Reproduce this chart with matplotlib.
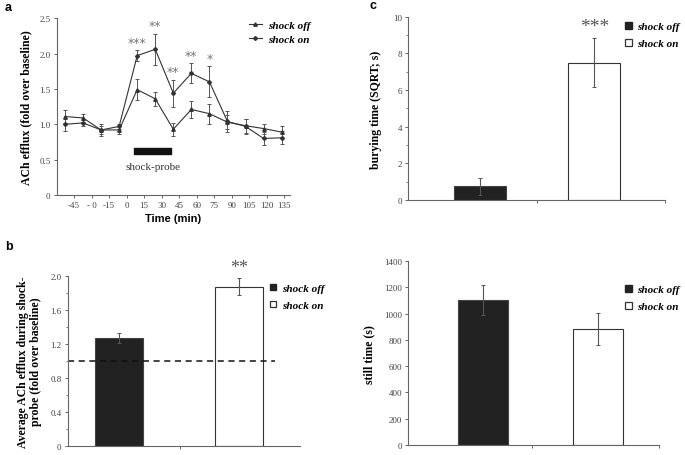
import matplotlib.pyplot as plt
import numpy as np
from matplotlib.patches import Patch
from matplotlib.lines import Line2D

# panel a: ACh efflux time course
time_labels = ['-45', '- 0', '-15', '0', '15', '30', '45', '60', '75', '90', '105', '120', '135']
on_mean = [1.00, 1.02, 0.92, 0.97, 1.97, 2.06, 1.44, 1.72, 1.60, 1.04, 0.97, 0.80, 0.81]
on_err = [0.09, 0.04, 0.08, 0.03, 0.08, 0.22, 0.19, 0.14, 0.22, 0.15, 0.11, 0.09, 0.09]
off_mean = [1.11, 1.09, 0.92, 0.92, 1.49, 1.36, 0.93, 1.21, 1.15, 1.03, 0.98, 0.94, 0.89]
off_err = [0.09, 0.06, 0.06, 0.05, 0.15, 0.10, 0.09, 0.12, 0.14, 0.10, 0.10, 0.07, 0.08]
stars_a = {4: '***', 5: '**', 6: '**', 7: '**', 8: '*'}

# panel b: average efflux during shock-probe
b_vals = [1.27, 1.87]
b_errs = [0.06, 0.10]
# panel c: burying time
c_vals = [0.75, 7.5]
c_errs = [0.45, 1.33]
# panel d: still time
d_vals = [1105, 885]
d_errs = [115, 120]

serif = 'Liberation Serif'
sans = 'Liberation Sans'
plt.rcParams['font.family'] = serif
tick_col = '#444444'
err_col = '#555555'
dark = '#222222'

fig = plt.figure(figsize=(6.85, 4.56), dpi=100)


def style_axes(ax):
    for s in ['top', 'right']:
        ax.spines[s].set_visible(False)
    for s in ['left', 'bottom']:
        ax.spines[s].set_color('#666666')
        ax.spines[s].set_linewidth(0.8)
    ax.tick_params(axis='both', labelsize=6.5, colors='#666666', labelcolor=tick_col,
                   length=2.5, width=0.7, pad=2)
    ax.tick_params(axis='y', which='minor', length=1.5, width=0.6, colors='#666666')


def bar_legend(ax, anchor):
    handles = [Patch(facecolor=dark, edgecolor=dark),
               Patch(facecolor='white', edgecolor='#333333', linewidth=0.9)]
    leg = ax.legend(handles, ['shock off', 'shock on'], loc='upper left',
                    bbox_to_anchor=anchor, bbox_transform=fig.transFigure,
                    frameon=False, handlelength=0.55, handleheight=0.55,
                    handletextpad=0.5, labelspacing=0.7, borderpad=0,
                    prop={'family': serif, 'weight': 'bold', 'style': 'italic', 'size': 8})
    return leg


# ---- panel a
ax = fig.add_axes([0.083, 0.570, 0.340, 0.388])
x = np.arange(len(on_mean))
ax.errorbar(x, off_mean, yerr=off_err, color='#333333', marker='^', ms=2.5,
            lw=0.8, ecolor=err_col, elinewidth=0.7, capsize=1.5, capthick=0.7)
ax.errorbar(x, on_mean, yerr=on_err, color='#333333', marker='D', ms=2,
            lw=0.8, ecolor=err_col, elinewidth=0.7, capsize=1.5, capthick=0.7)
for i, s in stars_a.items():
    ax.text(i, on_mean[i] + on_err[i] + 0.02, s, ha='center', va='bottom',
            fontsize=9, color='#777777', family='DejaVu Sans')
ax.add_patch(plt.Rectangle((3.85, 0.58), 2.05, 0.08, color='#111111'))
ax.text(4.85, 0.40, 'shock-probe', ha='center', va='center', fontsize=8, color='#333333')
ax.set_xlim(-0.45, 12.45)
ax.set_ylim(0, 2.5)
ax.set_yticks([0, 0.5, 1.0, 1.5, 2.0, 2.5])
ax.set_yticklabels(['0', '0.5', '1.0', '1.5', '2.0', '2.5'])
ax.set_xticks(np.linspace(0.5, 12.15, 13))
ax.set_xticklabels(time_labels)
style_axes(ax)
ax.set_ylabel('ACh efflux (fold over baseline)', fontsize=8.5, fontweight='bold', labelpad=5)
ax.set_xlabel('Time (min)', fontsize=8, fontweight='bold', family=sans, labelpad=3)
ax.legend([Line2D([], [], color='#333333', marker='^', ms=2.5, lw=0.8),
           Line2D([], [], color='#333333', marker='D', ms=2, lw=0.8)],
          ['shock off', 'shock on'], loc='upper left', bbox_to_anchor=(0.355, 0.965),
          bbox_transform=fig.transFigure, frameon=False, handlelength=1.2,
          handletextpad=0.5, labelspacing=0.35, borderpad=0,
          prop={'family': serif, 'weight': 'bold', 'style': 'italic', 'size': 8})

# ---- panel b
ax = fig.add_axes([0.099, 0.020, 0.339, 0.373])
xb = np.arange(2)
ax.bar(xb, b_vals, width=0.4, color=[dark, 'white'], edgecolor=['#444444', '#333333'], linewidth=0.8)
ax.errorbar(xb, b_vals, yerr=b_errs, fmt='none', ecolor=err_col, elinewidth=0.8, capsize=1.5, capthick=0.7)
ax.plot([-0.425, 1.3], [1.0, 1.0], ls=(0, (4, 3)), color='#111111', lw=1.1, clip_on=False)
ax.text(1, b_vals[1] + b_errs[1] + 0.03, '**', ha='center', va='bottom', fontsize=13, color='#555555')
ax.set_xlim(-0.425, 1.51)
ax.set_ylim(0, 2.0)
ax.set_yticks([0, 0.4, 0.8, 1.2, 1.6, 2.0])
ax.set_yticklabels(['0', '0.4', '0.8', '1.2', '1.6', '2.0'])
ax.set_yticks(np.arange(0.2, 2.0, 0.4), minor=True)
ax.set_xticks([0.51])
ax.set_xticklabels([])
style_axes(ax)
ax.set_ylabel('Average ACh efflux during shock-\nprobe (fold over baseline)', fontsize=8.5,
              fontweight='bold', labelpad=6, linespacing=1.1)
bar_legend(ax, (0.386, 0.388))

# ---- panel c
ax = fig.add_axes([0.596, 0.559, 0.375, 0.402])
ax.bar(xb, c_vals, width=0.456, color=[dark, 'white'], edgecolor=['#444444', '#333333'], linewidth=0.8)
ax.errorbar(xb, c_vals, yerr=c_errs, fmt='none', ecolor=err_col, elinewidth=0.8, capsize=1.5, capthick=0.7)
ax.text(1, c_vals[1] + c_errs[1] + 0.15, '***', ha='center', va='bottom', fontsize=14, color='#555555')
ax.set_xlim(-0.63, 1.62)
ax.set_ylim(0, 10)
ax.set_yticks([0, 2, 4, 6, 8, 10])
ax.set_yticks([1, 3, 5, 7, 9], minor=True)
ax.set_xticks([0.5, 1.62])
ax.set_xticklabels([])
style_axes(ax)
ax.set_ylabel('burying time (SQRT; s)', fontsize=8.5, fontweight='bold', labelpad=8)
bar_legend(ax, (0.905, 0.962))

# ---- panel d
ax = fig.add_axes([0.596, 0.022, 0.366, 0.403])
ax.bar(xb, d_vals, width=0.44, color=[dark, 'white'], edgecolor=['#444444', '#333333'], linewidth=0.8)
ax.errorbar(xb, d_vals, yerr=d_errs, fmt='none', ecolor=err_col, elinewidth=0.8, capsize=1.5, capthick=0.7)
ax.set_xlim(-0.65, 1.53)
ax.set_ylim(0, 1400)
ax.set_yticks(np.arange(0, 1401, 200))
ax.set_xticks([0.43, 1.53])
ax.set_xticklabels([])
style_axes(ax)
ax.set_ylabel('still time (s)', fontsize=8.5, fontweight='bold', labelpad=6)
bar_legend(ax, (0.905, 0.385))

# panel letters
fig.text(0.007, 0.982, 'a', fontsize=9, fontweight='bold', family=sans, va='center')
fig.text(0.007, 0.458, 'b', fontsize=9, fontweight='bold', family=sans, va='center')
fig.text(0.540, 0.987, 'c', fontsize=9, fontweight='bold', family=sans, va='center')

fig.savefig('out.png', dpi=100)
